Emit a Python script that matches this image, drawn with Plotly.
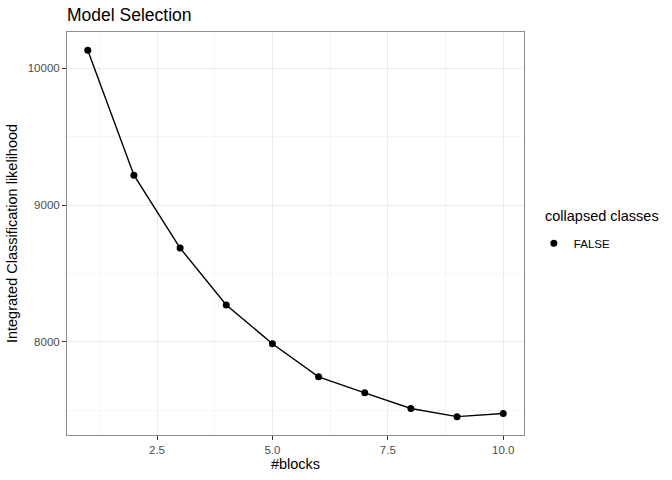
import plotly.graph_objects as go

# data
blocks = [1, 2, 3, 4, 5, 6, 7, 8, 9, 10]
icl = [10131, 9219, 8686, 8270, 7987, 7745, 7628, 7514, 7454, 7477]
legend_label = "FALSE"
legend_title = "collapsed classes"

fig = go.Figure()

# line first, points on top (only points show in legend)
fig.add_trace(go.Scatter(
    x=blocks, y=icl, mode='lines',
    line=dict(color='black', width=1.4),
    showlegend=False, hoverinfo='skip',
))
fig.add_trace(go.Scatter(
    x=blocks, y=icl, mode='markers', name=legend_label,
    marker=dict(color='black', size=7),
))

font_family = 'Liberation Sans, Arial, sans-serif'

fig.update_layout(
    width=672, height=480,
    margin=dict(l=67, r=148, t=32, b=45, autoexpand=False),
    paper_bgcolor='white', plot_bgcolor='white',
    font=dict(family=font_family, color='black'),
    title=dict(text='Model Selection', x=0.0997, xanchor='left',
               yref='container', y=0.969, yanchor='middle',
               font=dict(size=17.5, color='black')),
    legend=dict(
        font=dict(size=11.5),
        x=1.0215, xanchor='left', y=0.476, yanchor='middle',
        itemwidth=30,
    ),
)

# legend title as a separate label so it lines up like ggplot's
fig.add_annotation(
    text=legend_title, xref='paper', yref='paper',
    x=1.042, y=0.543, xanchor='left', yanchor='middle',
    showarrow=False, font=dict(size=14.5, color='black'),
)

fig.update_xaxes(
    title=dict(text='#blocks', font=dict(size=14.5), standoff=4),
    automargin=True,
    range=[0.55, 10.45],
    tickvals=[2.5, 5.0, 7.5, 10.0], ticktext=['2.5', '5.0', '7.5', '10.0'],
    tickfont=dict(size=11.5, color='#4d4d4d'),
    ticks='outside', ticklen=4, tickcolor='#333333',
    showgrid=True, gridcolor='#ebebeb', gridwidth=1.2,
    minor=dict(tickvals=[1.25, 3.75, 6.25, 8.75], showgrid=True,
               gridcolor='#f5f5f5', gridwidth=0.7, ticks=''),
    showline=True, linecolor='#8c8c8c', linewidth=1, mirror=True,
    zeroline=False,
)
fig.update_yaxes(
    title=dict(text='Integrated Classification likelihood', font=dict(size=14.5), standoff=6),
    automargin=True,
    range=[7320, 10265],
    tickvals=[8000, 9000, 10000], ticktext=['8000', '9000', '10000'],
    tickfont=dict(size=11.5, color='#4d4d4d'),
    ticks='outside', ticklen=4, tickcolor='#333333',
    showgrid=True, gridcolor='#ebebeb', gridwidth=1.2,
    minor=dict(tickvals=[7500, 8500, 9500], showgrid=True,
               gridcolor='#f5f5f5', gridwidth=0.7, ticks=''),
    showline=True, linecolor='#8c8c8c', linewidth=1, mirror=True,
    zeroline=False,
)

# drop the browser's default body margin so the figure sits at the page corner
fig.write_html("out.html", config={'displayModeBar': False},
               post_script="document.body.style.margin='0';")
